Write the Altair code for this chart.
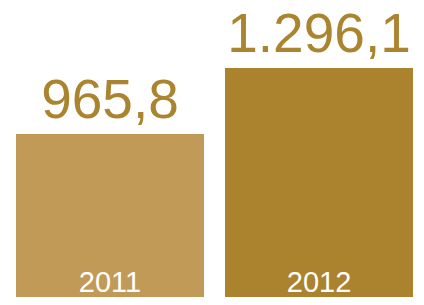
import altair as alt
import pandas as pd

years = ["2011", "2012"]
values = [965.8, 1296.1]
value_labels = ["965,8", "1.296,1"]
bar_colors = ["#C19A58", "#AB822E"]

df = pd.DataFrame({"year": years, "value": values, "label": value_labels})

x = alt.X("year:N", axis=None,
          scale=alt.Scale(paddingInner=0.1005, paddingOuter=0.0263, align=0.727))
y_scale = alt.Scale(domain=[150, 1596.4], nice=False, zero=False)

base = alt.Chart(df)

bars = base.mark_bar(clip=True).encode(
    x=x,
    y=alt.Y("value:Q", axis=None, scale=y_scale),
    y2=alt.datum(0),
    color=alt.Color("year:N", scale=alt.Scale(domain=years, range=bar_colors), legend=None),
)

value_text = base.mark_text(
    font="Liberation Sans", fontSize=55, color="#AB842F", baseline="alphabetic",
    align="center", dy=-16,
).encode(
    x=x,
    y=alt.Y("value:Q", axis=None, scale=y_scale),
    text="label:N",
)

year_text = base.mark_text(
    font="Liberation Sans", fontSize=29, color="#FFFFFF", baseline="alphabetic",
    align="center", dy=-5,
).encode(
    x=x,
    y=alt.value("height"),
    text="year:N",
)

chart = (bars + value_text + year_text).properties(
    width=408, height=289, padding=0,
    autosize=alt.AutoSizeParams(type="none"),
).configure_view(stroke=None)

chart.save("out.html", embed_options={"renderer": "svg", "actions": False})
